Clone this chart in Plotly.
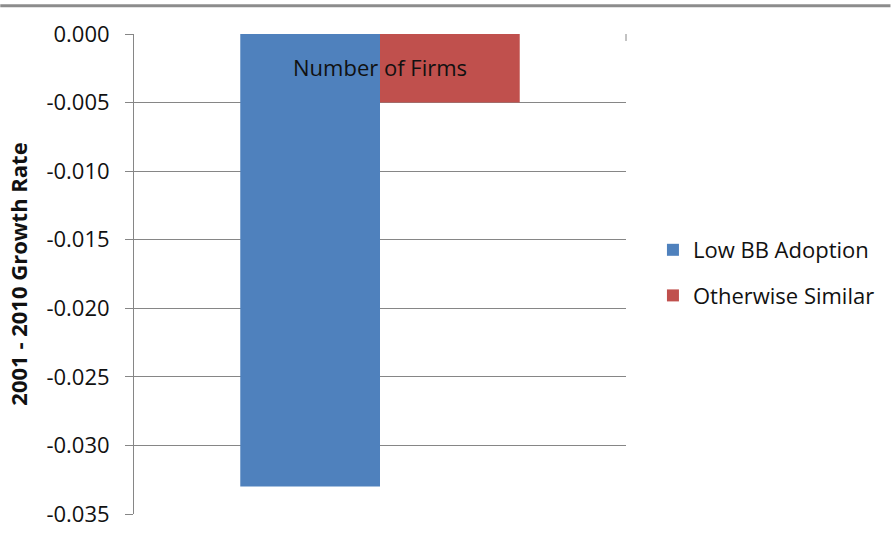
import plotly.graph_objects as go

categories = ["Number of Firms"]
series_names = ["Low BB Adoption", "Otherwise Similar"]
low_bb = [-0.033]
otherwise = [-0.005]
colors = ["#4F81BD", "#C0504D"]
tick_vals = [0.0, -0.005, -0.010, -0.015, -0.020, -0.025, -0.030, -0.035]
tick_text = ["0.000", "-0.005", "-0.010", "-0.015", "-0.020", "-0.025", "-0.030", "-0.035"]
y_title = "2001 - 2010 Growth Rate"

W, H = 892, 540
L, R, T, B = 134, 265, 34, 23
pw = W - L - R
ph = H - T - B

FONT = "Open Sans"
TXT = "#111111"

fig = go.Figure()
for i, (name, vals, c) in enumerate(zip(series_names, [low_bb, otherwise], colors)):
    fig.add_trace(go.Bar(x=categories, y=vals, name=name, legendgroup="g%d" % i,
                         marker=dict(color=c, line=dict(width=0))))

fig.update_layout(
    width=W, height=H,
    margin=dict(l=L, r=R, t=T, b=B, pad=0),
    paper_bgcolor="white", plot_bgcolor="white",
    barmode="group", bargap=0.432, bargroupgap=0,
    font=dict(family=FONT, size=22, color=TXT),
    showlegend=True,
    legend=dict(x=(654 - L) / pw, y=(517 - 274.5) / ph, xanchor="left", yanchor="middle",
                font=dict(family=FONT, size=22, color=TXT),
                itemwidth=30, tracegroupgap=14, bgcolor="rgba(0,0,0,0)"),
    xaxis=dict(showticklabels=False, showgrid=False, zeroline=False, showline=False, ticks=""),
    yaxis=dict(range=[-0.035, 0], tickvals=tick_vals, ticktext=tick_text,
               showgrid=True, gridcolor="#868686", gridwidth=1,
               showline=True, linecolor="#868686", linewidth=1,
               ticks="outside", ticklen=8, tickcolor="#868686",
               ticklabelstandoff=11,
               zeroline=False, tickfont=dict(family=FONT, size=22, color=TXT),
               title=dict(text="<b>" + y_title + "</b>", font=dict(family=FONT, size=22, color=TXT), standoff=12)),
)

fig.add_annotation(x=categories[0], y=0, xref="x", yref="y", text=categories[0], showarrow=False,
                   yanchor="top", yshift=-16, font=dict(family=FONT, size=22, color=TXT))

# top border line of the chart frame
fig.add_shape(type="line", xref="paper", yref="paper", x0=-L / pw, x1=(W - L) / pw,
              y0=1 + (T - 5.5) / ph, y1=1 + (T - 5.5) / ph,
              line=dict(color="#8C8C8C", width=3))
# category-axis tick mark at right end
fig.add_shape(type="line", xref="paper", yref="paper", x0=1, x1=1,
              y0=1, y1=1 - 7 / ph, line=dict(color="#868686", width=1))

fig.write_html("out.html")
